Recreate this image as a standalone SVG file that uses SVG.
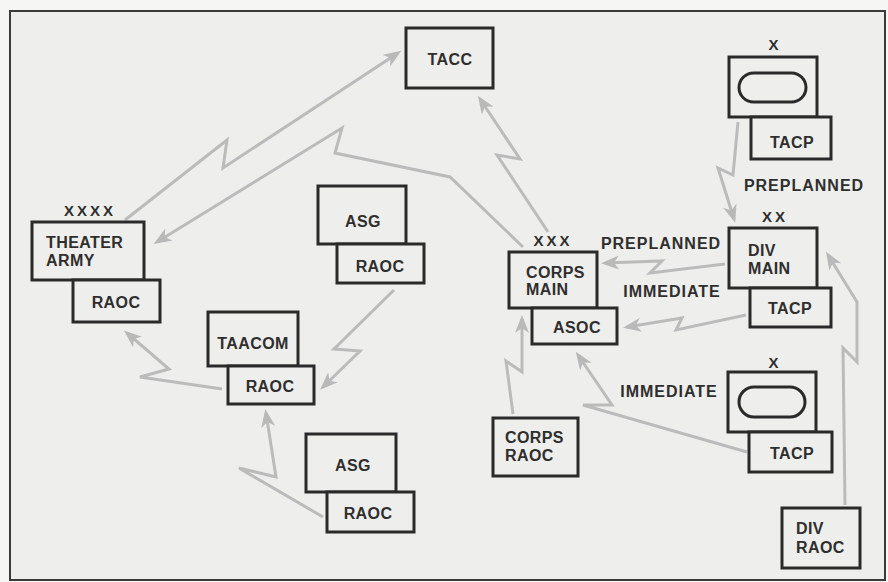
<svg xmlns="http://www.w3.org/2000/svg" width="888" height="582" viewBox="0 0 888 582">
<defs>
<marker id="ah" markerUnits="userSpaceOnUse" markerWidth="20" markerHeight="14" refX="14" refY="7" orient="auto">
<path d="M0,0 L18,7 L0,14 L5,7 Z" fill="#b9b9b9"/>
</marker>
<style>
.bx{fill:#eeeeec;stroke:#2a2a2a;stroke-width:3}
.ov{fill:none;stroke:#2a2a2a;stroke-width:3}
.t{font-family:"Liberation Sans",Arial,sans-serif;font-weight:bold;font-size:16px;fill:#2e2e2e;letter-spacing:0.4px}
.m{text-anchor:middle}
.x{font-family:"Liberation Sans",Arial,sans-serif;font-weight:bold;font-size:15px;fill:#2e2e2e;text-anchor:middle;letter-spacing:3px}
.lb{font-family:"Liberation Sans",Arial,sans-serif;font-weight:bold;font-size:16px;fill:#2e2e2e;text-anchor:middle;letter-spacing:1px}
.c{fill:none;stroke:#bbbbbb;stroke-width:3;stroke-linejoin:miter;marker-end:url(#ah)}
</style>
</defs>
<rect width="888" height="582" fill="#f6f6f5"/>
<rect x="10" y="11" width="875" height="569" fill="#eeeeec" stroke="#3a3a3a" stroke-width="2"/>

<g id="connectors">
<path class="c" d="M125,220 L227,140 L223,168 L398,53"/>
<path class="c" d="M523,247 L450,177 L335,153 L342,128 L157,242"/>
<path class="c" d="M548,232 L497,155 L520,159 L480,99"/>
<path class="c" d="M394,290 L334,349 L360,351 L323,387"/>
<path class="c" d="M222,389 L140,377 L169,369 L127,333"/>
<path class="c" d="M323,517 L239,468 L276,477 L266,413"/>
<path class="c" d="M513,414 L506,361 L522,372 L522,319"/>
<path class="c" d="M747,452 L583,405 L612,405 L578,355"/>
<path class="c" d="M725,264 L650,273 L662,261 L605,263"/>
<path class="c" d="M746,315 L676,330 L682,318 L627,327"/>
<path class="c" d="M738,122 L733,175 L718,168 L734,219"/>
<path class="c" d="M845,505 L843,348 L857,362 L857,302 L828,255"/>
</g>

<g id="tacc">
<rect class="bx" x="406" y="28" width="87" height="60"/>
<text class="t m" x="450" y="65">TACC</text>
</g>

<g id="brigade-top">
<text class="x" x="775" y="50">X</text>
<rect class="bx" x="729" y="57" width="88" height="60"/>
<rect class="ov" x="739" y="73" width="67" height="29" rx="14.5"/>
<rect class="bx" x="751" y="117" width="80" height="42"/>
<text class="t m" x="792" y="148">TACP</text>
</g>

<g id="theater-army">
<text class="x" x="90" y="216">XXXX</text>
<rect class="bx" x="32" y="222" width="112" height="58"/>
<text class="t" x="46" y="248">THEATER</text>
<text class="t" x="46" y="266">ARMY</text>
<rect class="bx" x="73" y="280" width="87" height="42"/>
<text class="t m" x="116" y="308">RAOC</text>
</g>

<g id="asg-top">
<rect class="bx" x="318" y="186" width="88" height="58"/>
<text class="t m" x="363" y="227">ASG</text>
<rect class="bx" x="337" y="244" width="87" height="39"/>
<text class="t m" x="380" y="272">RAOC</text>
</g>

<g id="taacom">
<rect class="bx" x="208" y="312" width="90" height="54"/>
<text class="t m" x="253" y="349">TAACOM</text>
<rect class="bx" x="228" y="366" width="86" height="38"/>
<text class="t m" x="270" y="392">RAOC</text>
</g>

<g id="asg-bottom">
<rect class="bx" x="306" y="434" width="90" height="58"/>
<text class="t m" x="353" y="471">ASG</text>
<rect class="bx" x="327" y="492" width="87" height="40"/>
<text class="t m" x="368" y="519">RAOC</text>
</g>

<g id="corps-main">
<text class="x" x="553" y="246">XXX</text>
<rect class="bx" x="509" y="252" width="88" height="56"/>
<text class="t" x="526" y="278">CORPS</text>
<text class="t" x="526" y="295">MAIN</text>
<rect class="bx" x="532" y="308" width="85" height="36"/>
<text class="t m" x="577" y="333">ASOC</text>
</g>

<g id="corps-raoc">
<rect class="bx" x="493" y="418" width="85" height="58"/>
<text class="t" x="505" y="443">CORPS</text>
<text class="t" x="505" y="461">RAOC</text>
</g>

<g id="div-main">
<text class="x" x="775" y="222">XX</text>
<rect class="bx" x="729" y="228" width="88" height="60"/>
<text class="t" x="748" y="256">DIV</text>
<text class="t" x="748" y="274">MAIN</text>
<rect class="bx" x="750" y="288" width="81" height="39"/>
<text class="t m" x="790" y="314">TACP</text>
</g>

<g id="brigade-bottom">
<text class="x" x="775" y="368">X</text>
<rect class="bx" x="728" y="372" width="88" height="60"/>
<rect class="ov" x="739" y="387" width="66" height="30" rx="15"/>
<rect class="bx" x="749" y="432" width="83" height="40"/>
<text class="t m" x="792" y="459">TACP</text>
</g>

<g id="div-raoc">
<rect class="bx" x="782" y="508" width="78" height="60"/>
<text class="t" x="796" y="534">DIV</text>
<text class="t" x="796" y="553">RAOC</text>
</g>

<g id="labels">
<text class="lb" x="804" y="191">PREPLANNED</text>
<text class="lb" x="661" y="249">PREPLANNED</text>
<text class="lb" x="672" y="297">IMMEDIATE</text>
<text class="lb" x="669" y="397">IMMEDIATE</text>
</g>
</svg>
